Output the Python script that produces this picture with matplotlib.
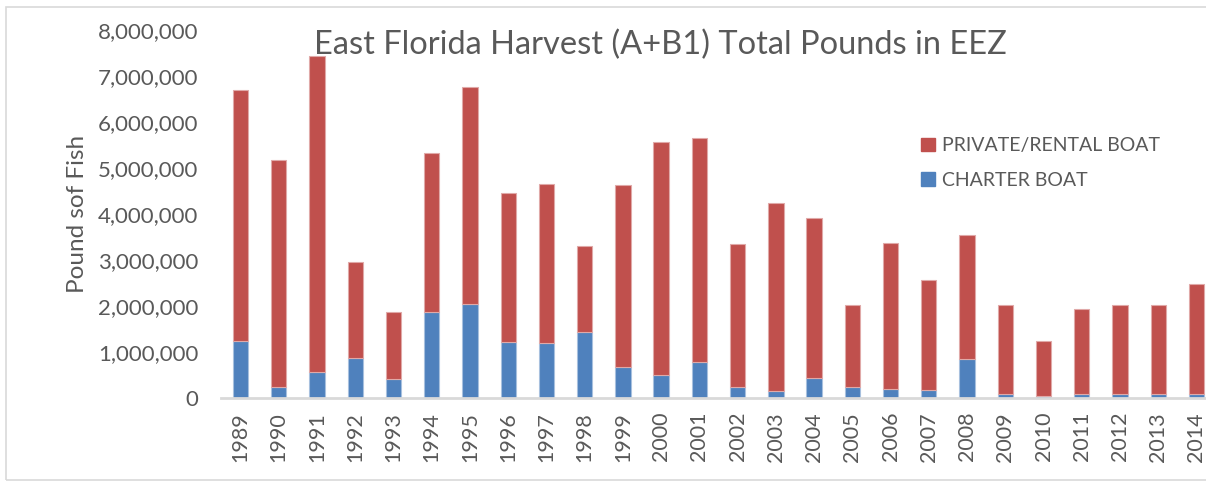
import numpy as np
import matplotlib
matplotlib.use('Agg')
import matplotlib.pyplot as plt
from matplotlib.patches import Rectangle, Patch
from matplotlib.ticker import FuncFormatter

years = [str(y) for y in range(1989, 2015)]
total = [6.70, 5.17, 7.43, 2.95, 1.86, 5.32, 6.75, 4.45, 4.65, 3.30, 4.62, 5.57, 5.65,
         3.35, 4.23, 3.91, 2.02, 3.38, 2.57, 3.54, 2.02, 1.25, 1.93, 2.03, 2.02, 2.48]
charter = [1.24, 0.23, 0.56, 0.88, 0.41, 1.86, 2.04, 1.21, 1.19, 1.43, 0.67, 0.51, 0.78,
           0.25, 0.15, 0.43, 0.23, 0.19, 0.17, 0.84, 0.08, 0.04, 0.08, 0.08, 0.08, 0.08]
# values in pounds
charter = np.array(charter) * 1e6
private = np.array(total) * 1e6 - charter

red = '#C0504D'
blue = '#4F81BD'
grey = '#595959'

plt.rcParams['font.family'] = ['Lato', 'DejaVu Sans']

fig = plt.figure(figsize=(12.06, 4.83), dpi=100)
ax = fig.add_axes([221.4 / 1206, 1 - 398 / 483, 994.2 / 1206, 368 / 483])

x = np.arange(len(years))
ax.bar(x, charter, 0.4, color=blue, edgecolor='#A7C0DE', linewidth=0.8, label='CHARTER BOAT')
ax.bar(x, private, 0.4, bottom=charter, color=red, edgecolor='#E0A9A8', linewidth=0.8,
       label='PRIVATE/RENTAL BOAT')

ax.set_xlim(-0.5, len(years) - 0.5)
ax.set_ylim(0, 8e6)
ax.set_yticks(np.arange(0, 8e6 + 1, 1e6))
ax.yaxis.set_major_formatter(FuncFormatter(lambda v, p: f'{int(v):,}'))
ax.set_xticks(x)
ax.set_xticklabels(years, rotation=90)
ax.tick_params(axis='y', length=0, pad=16.5, labelsize=16, labelcolor=grey)
ax.tick_params(axis='x', length=0, pad=10, labelsize=15.5, labelcolor=grey)

for s in ['top', 'right', 'left']:
    ax.spines[s].set_visible(False)
ax.spines['bottom'].set_color('#D9D9D9')
ax.spines['bottom'].set_linewidth(2)

fig.text(660 / 1206, 1 - 45 / 483, 'East Florida Harvest (A+B1) Total Pounds in EEZ',
         ha='center', va='center', fontsize=23.5, color=grey)
fig.text(78 / 1206, 1 - 214 / 483, 'Pound sof Fish', rotation=90,
         ha='center', va='center', fontsize=17.5, color=grey)

handles = [Patch(color=red), Patch(color=blue)]
fig.legend(handles, ['PRIVATE/RENTAL BOAT', 'CHARTER BOAT'], loc='center left',
           bbox_to_anchor=(903 / 1206, 1 - 163 / 483), frameon=False, fontsize=14,
           labelcolor=grey, handlelength=0.72, handleheight=0.72, handletextpad=0.4,
           labelspacing=0.9)

fig.patches.append(Rectangle((6 / 1206, 3 / 483), 1.0, 1 - 10 / 483, transform=fig.transFigure,
                             fill=False, edgecolor='#D9D9D9', linewidth=1.2))

fig.savefig('out.png', dpi=100)
